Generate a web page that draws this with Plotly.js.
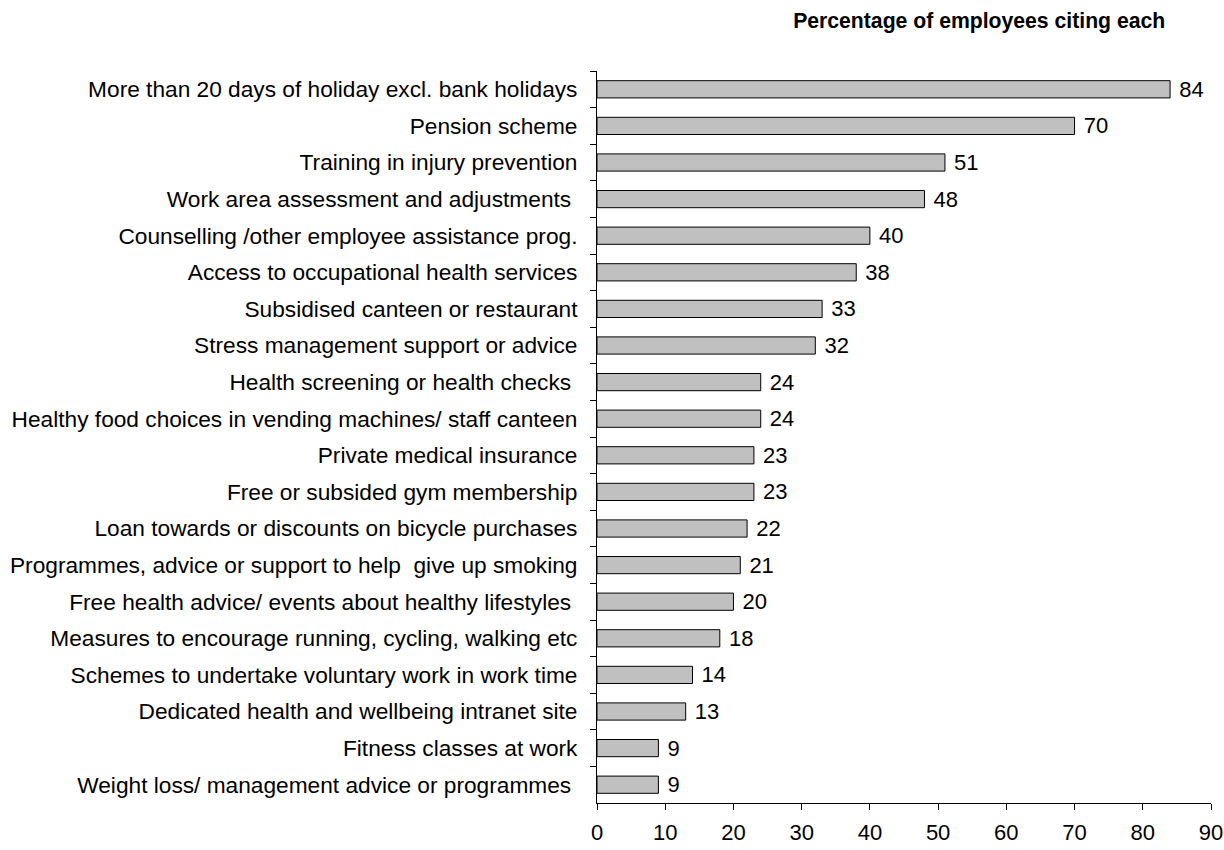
<!DOCTYPE html>
<html>
<head>
<meta charset="utf-8">
<script src="https://cdn.plot.ly/plotly-3.0.1.min.js"></script>
<style>html,body{margin:0;padding:0;background:#fff;}#chart{width:1224px;height:850px;}</style>
</head>
<body>
<div id="chart"></div>
<script>
const categories = [
  "More than 20 days of holiday excl. bank holidays",
  "Pension scheme",
  "Training in injury prevention",
  "Work area assessment and adjustments ",
  "Counselling /other employee assistance prog.",
  "Access to occupational health services",
  "Subsidised canteen or restaurant",
  "Stress management support or advice",
  "Health screening or health checks ",
  "Healthy food choices in vending machines/ staff canteen",
  "Private medical insurance",
  "Free or subsided gym membership",
  "Loan towards or discounts on bicycle purchases",
  "Programmes, advice or support to help  give up smoking",
  "Free health advice/ events about healthy lifestyles ",
  "Measures to encourage running, cycling, walking etc",
  "Schemes to undertake voluntary work in work time",
  "Dedicated health and wellbeing intranet site",
  "Fitness classes at work",
  "Weight loss/ management advice or programmes "
];
const values = [84, 70, 51, 48, 40, 38, 33, 32, 24, 24, 23, 23, 22, 21, 20, 18, 14, 13, 9, 9];
const xTicks = [0, 10, 20, 30, 40, 50, 60, 70, 80, 90];

const trace = {
  type: 'bar',
  orientation: 'h',
  x: values,
  y: categories,
  text: values.map(v => '\u00a0' + v),
  textposition: 'outside',
  constraintext: 'none',
  cliponaxis: false,
  textfont: {family: 'Liberation Sans, Arial, sans-serif', size: 22, color: '#000'},
  marker: {color: '#c0c0c0', line: {color: '#000', width: 1}},
  width: 0.47,
  hoverinfo: 'none'
};

const layout = {
  width: 1224, height: 850,
  margin: {l: 597, r: 13, t: 71, b: 47},
  paper_bgcolor: '#fff', plot_bgcolor: '#fff',
  font: {family: 'Liberation Sans, Arial, sans-serif', size: 22, color: '#000'},
  showlegend: false,
  title: {
    text: '<b>Percentage of employees citing each</b>',
    font: {size: 21.2, color: '#000'},
    xref: 'container', x: 0.952, xanchor: 'right',
    yref: 'container', y: 0.976, yanchor: 'middle'
  },
  xaxis: {
    range: [0, 90],
    tickvals: xTicks,
    ticktext: xTicks.map(String),
    showgrid: false, zeroline: false,
    showline: true, linecolor: '#000', linewidth: 1,
    ticks: 'outside', ticklen: 6, tickcolor: '#000',
    ticklabelstandoff: 4,
    tickfont: {size: 22},
    fixedrange: true
  },
  yaxis: {
    type: 'category',
    autorange: 'reversed',
    showgrid: false, zeroline: false,
    showline: true, linecolor: '#000', linewidth: 1,
    ticks: 'outside', ticklen: 6, tickcolor: '#000',
    tickson: 'boundaries',
    ticklabelstandoff: 14,
    tickfont: {size: 22.7},
    fixedrange: true
  }
};

Plotly.newPlot('chart', [trace], layout, {staticPlot: true});
</script>
</body>
</html>
